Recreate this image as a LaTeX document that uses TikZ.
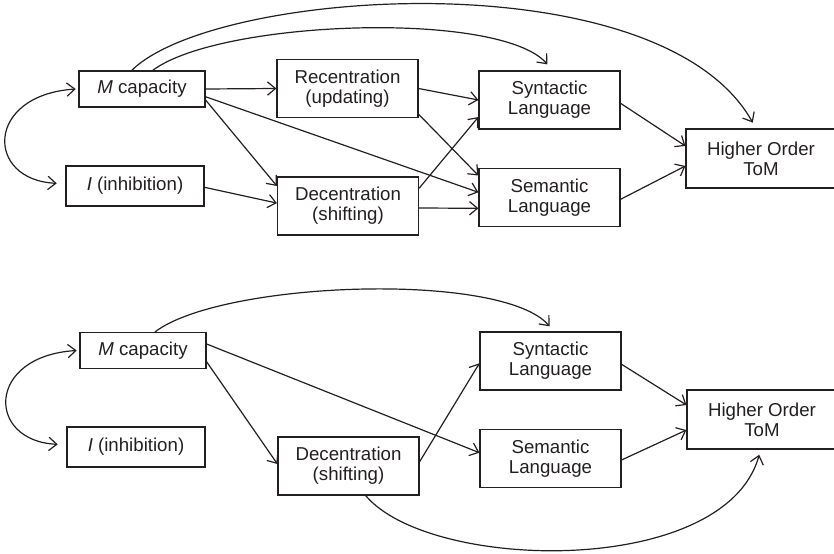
\documentclass[tikz,border=0pt]{standalone}
\usepackage{fontspec}
\setmainfont{Liberation Sans}
\usepackage{xcolor}
\usepackage{tikz}
\usetikzlibrary{arrows.meta}
\definecolor{ink}{RGB}{35,31,32}

\begin{document}
\begin{tikzpicture}[x=0.75pt,y=-0.75pt,color=ink,line width=0.9pt,
   >={Straight Barb[length=6pt,width=10pt]},
   box/.style={draw,line width=0.9pt,align=center,inner sep=0pt,
               font=\fontsize{14}{14.8}\selectfont},
   onebox/.style={box,minimum width=94.5pt,minimum height=27pt},
   inhbox/.style={box,minimum width=103.5pt,minimum height=30pt},
   twobox/.style={box,minimum width=105.75pt,minimum height=43.5pt},
   tombox/.style={box,minimum width=112.5pt,minimum height=44.25pt}]
  \useasboundingbox (0,0) rectangle (834,553);
  \node[onebox] (mcA) at (142,89) {\textit{M} capacity};
  \node[inhbox] (inA) at (135,186) {\textit{I} (inhibition)};
  \node[twobox] (rcA) at (347.5,88.5) {Recentration\\(updating)};
  \node[twobox] (dcA) at (348,206) {Decentration\\(shifting)};
  \node[twobox] (syA) at (549.5,100) {Syntactic\\Language};
  \node[twobox] (smA) at (549.5,197.5) {Semantic\\Language};
  \node[tombox] (hoA) at (761,158.5) {Higher Order\\ToM};
  \draw[->] (mcA.east) -- (rcA.west);
  \draw[->] ([yshift=-8.25pt]mcA.east) -- ([yshift=15pt]dcA.west);
  \draw[->] ([yshift=-5.8pt]mcA.east) -- ([yshift=3.9pt]smA.west);
  \draw[->] ([yshift=-1pt]inA.east) -- ([yshift=2.2pt]dcA.west);
  \draw[->] (rcA.east) -- (syA.west);
  \draw[->] ([yshift=-19.3pt]rcA.east) -- ([yshift=16.5pt]smA.west);
  \draw[->] ([yshift=13.3pt]dcA.east) -- ([yshift=-12.75pt]syA.west);
  \draw[->] ([yshift=-1.5pt]dcA.east) -- ([yshift=-8.1pt]smA.west);
  \draw[->] ([yshift=-2.5pt]syA.east) -- ([yshift=9.4pt]hoA.west);
  \draw[->] ([yshift=-1.35pt]smA.east) -- ([yshift=-5.6pt]hoA.west);
  \draw[->,shorten >=5pt] ([xshift=-7.7pt]mcA.north) .. controls (215,-12) and (660,-42) .. ([xshift=-3.75pt]hoA.north);
  \draw[->,shorten >=6pt] ([xshift=8pt]mcA.north) .. controls (220,20) and (500,10) .. ([xshift=2.4pt]syA.north);
  \draw[<->] ([xshift=-2pt]mcA.west) .. controls (-15,95) and (-15,180) .. ([xshift=-6.5pt,yshift=2pt]inA.west);

  \node[onebox] (mcB) at (143,350.5) {\textit{M} capacity};
  \node[inhbox] (inB) at (136,447) {\textit{I} (inhibition)};
  \node[twobox] (dcB) at (348.5,466) {Decentration\\(shifting)};
  \node[twobox] (syB) at (550.5,361) {Syntactic\\Language};
  \node[twobox] (smB) at (550.5,458.5) {Semantic\\Language};
  \node[tombox] (hoB) at (762,419.5) {Higher Order\\ToM};
  \draw[->] ([yshift=4.9pt]mcB.east) -- ([yshift=4.35pt]smB.west);
  \draw[->] ([yshift=-8.4pt]mcB.east) -- ([yshift=1.5pt]dcB.west);
  \draw[->] ([yshift=3.2pt]dcB.east) -- ([yshift=-1.7pt]syB.west);
  \draw[->] ([yshift=-2.5pt]syB.east) -- ([yshift=10.9pt]hoB.west);
  \draw[->] ([yshift=-1.1pt]smB.east) -- ([yshift=-7.9pt]hoB.west);
  \draw[->,shorten >=5pt] ([xshift=9pt]mcB.north) .. controls (222,281) and (502,271) .. ([xshift=2.6pt]syB.north);
  \draw[->,shorten >=4pt] ([xshift=12.9pt]dcB.south) .. controls (430,572) and (725,578) .. ([xshift=-1pt]hoB.south);
  \draw[<->] ([xshift=-2pt]mcB.west) .. controls (-14,356) and (-14,441) .. ([xshift=-6.5pt,yshift=2pt]inB.west);
\end{tikzpicture}
\end{document}
